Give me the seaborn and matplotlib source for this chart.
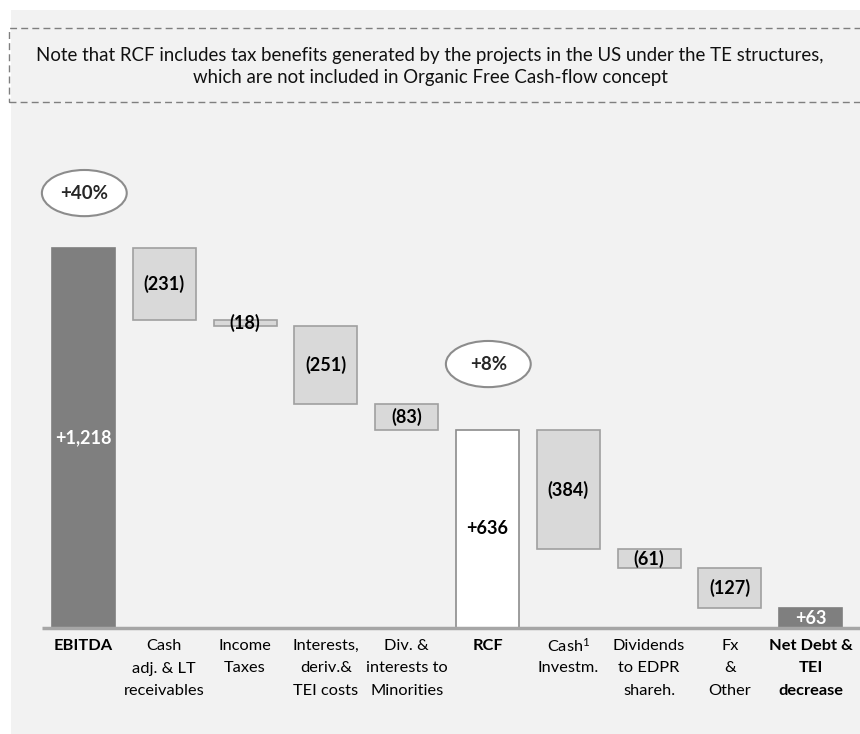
import matplotlib
matplotlib.use("Agg")
import matplotlib.pyplot as plt
from matplotlib.patches import Rectangle, Ellipse
import seaborn as sns
import pandas as pd

# data
steps = ["EBITDA", "Cash adj", "Income Taxes", "Interests", "Div", "RCF",
         "Cash Investm", "Dividends", "Fx", "Net Debt"]
values = [1218, -231, -18, -251, -83, 636, -384, -61, -127, 63]
is_total = [True, False, False, False, False, True, False, False, False, True]
tick_lines = [
    ["EBITDA"],
    ["Cash", "adj. & LT", "receivables"],
    ["Income", "Taxes"],
    ["Interests,", "deriv.&", "TEI costs"],
    ["Div. &", "interests to", "Minorities"],
    ["RCF"],
    [r"Cash$^{\mathrm{1}}$", "Investm."],
    ["Dividends", "to EDPR", "shareh."],
    ["Fx", "&", "Other"],
    ["Net Debt &", "TEI", "decrease"],
]
bubbles = [(0, "+40%"), (5, "+8%")]
note = ("Note that RCF includes tax benefits generated by the projects in the US under the TE structures,\n"
        "which are not included in Organic Free Cash-flow concept")

# waterfall geometry
bottoms, heights = [], []
level = 0
for v, tot in zip(values, is_total):
    if tot:
        bottoms.append(0)
        heights.append(v)
        level = v
    else:
        bottoms.append(level + v)
        heights.append(-v)
        level = level + v
df = pd.DataFrame({"step": steps, "height": heights, "bottom": bottoms})

sns.set_style("white")
plt.rcParams['font.family'] = ['Lato', 'DejaVu Sans']
plt.rcParams['mathtext.fontset'] = 'custom'
plt.rcParams['mathtext.rm'] = 'Lato'
plt.rcParams['mathtext.it'] = 'Lato:italic'
plt.rcParams['mathtext.bf'] = 'Lato:bold'

W, H = 860, 734
fig = plt.figure(figsize=(8.6, 7.34), dpi=100)
fig.patch.set_facecolor("white")

# grey slide background and dashed note box (pixel coords -> figure fraction)
def fx(px):
    return px / W

def fy(py):
    return 1 - py / H

fig.patches.append(Rectangle((fx(11), 0), 1, fy(10), transform=fig.transFigure,
                             facecolor="#f2f2f2", edgecolor="none", zorder=-10))
fig.patches.append(Rectangle((fx(9), fy(102)), 1, (102 - 28) / H, transform=fig.transFigure,
                             facecolor="none", edgecolor="#7f7f7f", lw=1.0,
                             linestyle=(0, (5, 3)), zorder=-5))
fig.text(0.5, fy(66.5), note, ha="center", va="center", fontsize=13.4,
         color="#111111", linespacing=1.3)

ax = fig.add_axes([0, 0, 1, 1])
ax.patch.set_alpha(0)
ax.set_zorder(5)

sns.barplot(data=df, x="step", y="height", bottom=df["bottom"].to_numpy(),
            order=steps, width=0.78, errorbar=None, color="#d9d9d9", ax=ax)

for i, p in enumerate(ax.patches):
    if i in (0, 9):
        p.set_facecolor("#7f7f7f")
        p.set_edgecolor("#7f7f7f")
    elif i == 5:
        p.set_facecolor("white")
        p.set_edgecolor("#8c8c8c")
    else:
        p.set_facecolor("#d9d9d9")
        p.set_edgecolor("#a0a0a0")
    p.set_linewidth(1.2)
    p.set_zorder(2)

# value labels
for i, (v, b, h) in enumerate(zip(values, bottoms, heights)):
    txt = f"+{v:,}" if v > 0 else f"({-v})"
    col = "white" if i in (0, 9) else "black"
    ax.text(i, b + h / 2, txt, ha="center", va="center", fontsize=13,
            fontweight="bold", color=col, zorder=4)

# category labels under the axis line
for i, lines in enumerate(tick_lines):
    bold = is_total[i]
    for k, line in enumerate(lines):
        ax.annotate(line, xy=(i, 0), xytext=(0, -(18 + k * 22.5) * 0.72),
                    textcoords="offset points", ha="center", va="center",
                    fontsize=11.8, fontweight="bold" if bold else "normal",
                    color="black")

# growth bubbles
for i, lab in bubbles:
    yc = 1394 if i == 0 else 846
    ax.add_patch(Ellipse((i + 0.01, yc), 1.05, 148, facecolor="white",
                         edgecolor="#8c8c8c", lw=1.5, zorder=3))
    ax.text(i + 0.01, yc, lab, ha="center", va="center", fontsize=13.5,
            fontweight="bold", zorder=4)

ax.hlines(0, -0.514, 9.7, color="#a6a6a6", lw=2.5, zorder=3)

ax.set_xlim(-83.5 / 80.8, (W - 83.5) / 80.8)
ax.set_ylim(-106 / 0.312, (H - 106) / 0.312)
ax.set_xticks([])
ax.set_yticks([])
ax.set_xlabel("")
ax.set_ylabel("")
sns.despine(ax=ax, left=True, bottom=True)

fig.savefig("out.png", dpi=100)
